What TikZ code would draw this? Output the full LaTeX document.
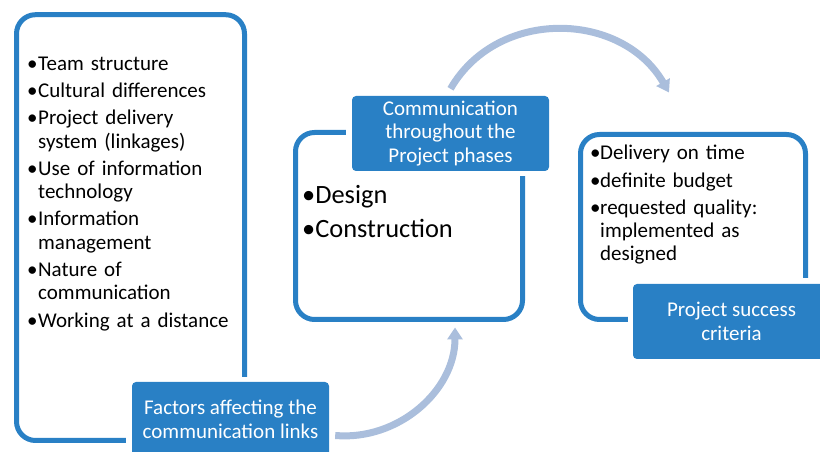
\documentclass[tikz,border=0pt]{standalone}
\usepackage{fontspec}
\setmainfont{Carlito}
\usetikzlibrary{arrows.meta}
\definecolor{smartblue}{RGB}{41,128,197}
\definecolor{arrowgrey}{RGB}{170,190,220}
\newcommand{\bul}[2][11pt]{\noindent\makebox[#1][l]{\textbullet}#2\par}
\newcommand{\cont}[1][11pt]{\newline\hspace*{#1}}
\tikzset{
  rim/.style = {draw=smartblue, line width=5pt, rounded corners=19pt},
  boxarea/.style = {inner sep=0pt, outer sep=0pt},
  head/.style = {fill=smartblue, text=white, rounded corners=4pt,
    minimum width=197pt, minimum height=75pt, inner sep=0pt,
    align=center, font=\fontsize{21}{23.5}\selectfont},
  items/.style = {anchor=north west, inner sep=0pt, text width=#1, align=left,
    font=\fontsize{21}{23.3}\selectfont,
    execute at begin node={\setlength{\parskip}{4pt}}},
  flow/.style = {draw=arrowgrey, line width=7pt, -{Triangle[width=15pt,length=12pt]}},
}

\begin{document}
\begin{tikzpicture}[x=1pt, y=1pt]
  \useasboundingbox (0,0) rectangle (820,452);
  % areas inside the outlines
  \node[boxarea, minimum width=228pt, minimum height=425.8pt] (factbox) at (130.5,224.4) {};
  \node[boxarea, minimum width=227pt, minimum height=187pt] (phasebox) at (409,226) {};
  \node[boxarea, minimum width=225pt, minimum height=185pt] (critbox) at (693,225) {};
  % headings
  \node[head] (factors) at (230.5,32.5) {Factors affecting the\\communication links};
  \node[head] (phases) at (450.5,318.5) {Communication\\throughout the\\Project phases};
  \node[head] (criteria) at (731.5,130.5) {Project success\\criteria};
  % outlines, open where the heading sits
  \draw[rim] ([xshift=-6]factors.west |- factbox.south) -- (factbox.south west)
    -- (factbox.north west) -- (factbox.north east) -- ([yshift=5]factbox.east |- factors.north);
  \draw[rim] ([xshift=-6]phases.west |- phasebox.north) -- (phasebox.north west)
    -- (phasebox.south west) -- (phasebox.south east) -- ([yshift=-5]phasebox.east |- phases.south);
  \draw[rim] ([yshift=6]critbox.east |- criteria.north) -- (critbox.north east)
    -- (critbox.north west) -- (critbox.south west) -- ([xshift=-5]criteria.west |- critbox.south);
  % lists
  \node[items=215pt] (factlist) at (27,395.5) {%
    \bul{Team structure}
    \bul{Cultural differences}
    \bul{Project delivery\cont system (linkages)}
    \bul{Use of information\cont technology}
    \bul{Information\cont management}
    \bul{Nature of\cont communication}
    \bul{Working at a distance}};
  \node[items=200pt, font=\fontsize{26.4}{30}\selectfont] (phaselist) at (302,267) {%
    \textbullet Design\par
    \textbullet Construction};
  \node[items=205pt] (critlist) at (590,307) {%
    \bul[10pt]{Delivery on time}
    \bul[10pt]{definite budget}
    \bul[10pt]{requested quality:\cont[10pt]implemented as\cont[10pt]designed}};
  % arrows
  \draw[flow] ([shift={(6,-16)}]factors.east) to[out=-5, in=-90] ([shift={(46,-8)}]phasebox.south);
  \draw[flow] ([yshift=7]phases.north) to[out=60, in=120, looseness=1.1] ([shift={(-24,42)}]critbox.north);
\end{tikzpicture}
\end{document}
